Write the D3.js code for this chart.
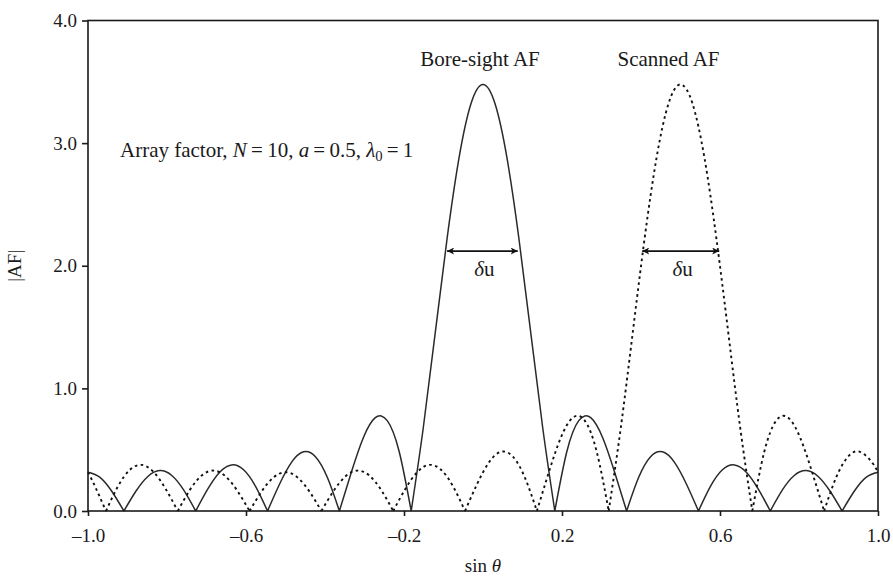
<!DOCTYPE html>
<html><head><meta charset="utf-8">
<script src="https://cdn.jsdelivr.net/npm/d3@7"></script>
<style>
body{margin:0;background:#fff}
svg{display:block}
text{font-family:"Liberation Serif","Times New Roman",serif;fill:#1a1a1a}
</style>
</head><body>
<svg id="c" width="893" height="576"></svg>
<script>
// ---- data ----
const xTicks = [-1.0, -0.6, -0.2, 0.2, 0.6, 1.0];
const yTicks = [0, 1, 2, 3, 4];

const boreU = [-1, -0.9697, -0.9394, -0.9091, -0.8788, -0.8485, -0.8182, -0.7879, -0.7576, -0.7273, -0.6970,
  -0.6667, -0.6364, -0.6061, -0.5758, -0.5455, -0.5152, -0.4848, -0.4545, -0.4242, -0.3939, -0.3636,
  -0.3333, -0.3030, -0.2727, -0.2424, -0.2121, -0.1818, -0.1515, -0.1212, -0.0909, -0.0606, -0.0303,
  0,
  0.0303, 0.0606, 0.0909, 0.1212, 0.1515, 0.1818, 0.2121, 0.2424, 0.2727, 0.3030, 0.3333,
  0.3636, 0.3939, 0.4242, 0.4545, 0.4848, 0.5152, 0.5455, 0.5758, 0.6061, 0.6364, 0.6667,
  0.6970, 0.7273, 0.7576, 0.7879, 0.8182, 0.8485, 0.8788, 0.9091, 0.9394, 0.9697, 1];
const boreAF = [0.3162, 0.2742, 0.1588, 0, 0.1610, 0.2818, 0.3296, 0.2898, 0.1703, 0, 0.1779,
  0.3162, 0.3759, 0.3362, 0.2011, 0, 0.2185, 0.3969, 0.4829, 0.4430, 0.2726, 0,
  0.3162, 0.5977, 0.7612, 0.7369, 0.4834, 0, 0.6707, 1.4471, 2.2221, 2.8809, 3.3232,
  3.4785,
  3.3232, 2.8809, 2.2221, 1.4471, 0.6707, 0, 0.4834, 0.7369, 0.7612, 0.5977, 0.3162,
  0, 0.2726, 0.4430, 0.4829, 0.3969, 0.2185, 0, 0.2011, 0.3362, 0.3759, 0.3162,
  0.1779, 0, 0.1703, 0.2898, 0.3296, 0.2818, 0.1610, 0, 0.1588, 0.2742, 0.3162];

const scanU = [-1, -0.9848, -0.9545, -0.9242, -0.8939, -0.8636, -0.8333, -0.8030, -0.7727, -0.7424, -0.7121,
  -0.6818, -0.6515, -0.6212, -0.5909, -0.5606, -0.5303, -0.5, -0.4697, -0.4394, -0.4091, -0.3788,
  -0.3485, -0.3182, -0.2879, -0.2576, -0.2273, -0.1970, -0.1667, -0.1364, -0.1061, -0.0758, -0.0455,
  -0.0152, 0.0152, 0.0455, 0.0758, 0.1061, 0.1364, 0.1667, 0.1970, 0.2273, 0.2576, 0.2879,
  0.3182, 0.3485, 0.3788, 0.4091, 0.4394, 0.4697, 0.5, 0.5303, 0.5606, 0.5909, 0.6212,
  0.6515, 0.6818, 0.7121, 0.7424, 0.7727, 0.8030, 0.8333, 0.8636, 0.8939, 0.9242, 0.9545, 0.9848, 1];
const scanAF = [0.3162, 0.2185, 0, 0.2011, 0.3362, 0.3759, 0.3162, 0.1779, 0, 0.1703, 0.2898,
  0.3296, 0.2818, 0.1610, 0, 0.1588, 0.2742, 0.3162, 0.2742, 0.1588, 0, 0.1610,
  0.2818, 0.3296, 0.2898, 0.1703, 0, 0.1779, 0.3162, 0.3759, 0.3362, 0.2011, 0,
  0.2185, 0.3969, 0.4829, 0.4430, 0.2726, 0, 0.3162, 0.5977, 0.7612, 0.7369, 0.4834,
  0, 0.6707, 1.4471, 2.2221, 2.8809, 3.3232, 3.4785, 3.3232, 2.8809, 2.2221, 1.4471,
  0.6707, 0, 0.4834, 0.7369, 0.7612, 0.5977, 0.3162, 0, 0.2726, 0.4430, 0.4829, 0.3969, 0.3162];

const peakLabels = ["Bore-sight AF", "Scanned AF"];
const peakCenters = [0, 0.5];
const arrowFrom = [-0.091, 0.403];
const arrowTo = [0.088, 0.598];
const arrowLevel = [2.12, 2.12];

// ---- drawing ----
const svg = d3.select("#c");
const x = d3.scaleLinear().domain([-1, 1]).range([88, 878]);
const y = d3.scaleLinear().domain([0, 4]).range([511, 20.5]);
const FS = 19, FA = 21;

// split a series into lobes at its nulls so the nulls stay sharp
function lobes(us, vs) {
  const segs = []; let cur = [];
  us.forEach((u, i) => {
    cur.push([u, vs[i]]);
    if (vs[i] === 0 && cur.length > 1) { segs.push(cur); cur = [[u, vs[i]]]; }
  });
  if (cur.length > 1) segs.push(cur);
  return segs;
}
const line = d3.line().x(d => x(d[0])).y(d => y(d[1])).curve(d3.curveNatural);

const plot = svg.append("g");
plot.append("path")
  .attr("d", lobes(boreU, boreAF).map(s => line(s)).join(""))
  .attr("fill", "none").attr("stroke", "#2a2a2a").attr("stroke-width", 1.5);
plot.append("path")
  .attr("d", lobes(scanU, scanAF).map(s => line(s)).join(""))
  .attr("fill", "none").attr("stroke", "#111").attr("stroke-width", 1.9)
  .attr("stroke-dasharray", "2.6,3.4");

// frame
svg.append("rect").attr("x", x(-1)).attr("y", y(4))
  .attr("width", x(1) - x(-1)).attr("height", y(0) - y(4))
  .attr("fill", "none").attr("stroke", "#1a1a1a").attr("stroke-width", 1.6);

const fmt = d => d3.format(".1f")(d).replace("\u2212", "\u2013");
const gx = svg.append("g").attr("transform", `translate(0,${y(0)})`)
  .call(d3.axisBottom(x).tickValues(xTicks).tickSize(5).tickPadding(13).tickFormat(fmt));
const gy = svg.append("g").attr("transform", `translate(${x(-1)},0)`)
  .call(d3.axisLeft(y).tickValues(yTicks).tickSize(6).tickPadding(5).tickFormat(d3.format(".1f")));
[gx, gy].forEach(g => {
  g.select(".domain").remove();
  g.attr("font-family", null).attr("font-size", null);
  g.selectAll("line").attr("stroke", "#1a1a1a").attr("stroke-width", 1.6);
  g.selectAll("text").attr("font-size", FS).attr("fill", "#1a1a1a");
});

// axis titles
const xt = svg.append("text").attr("x", x(0)).attr("y", 572)
  .attr("text-anchor", "middle").attr("font-size", FS);
xt.append("tspan").text("sin ");
xt.append("tspan").attr("font-style", "italic").text("\u03B8");
svg.append("text").attr("transform", `translate(21,${(y(0) + y(4)) / 2}) rotate(-90)`)
  .attr("text-anchor", "middle").attr("font-size", FS).text("|AF|");

// annotation
const ann = svg.append("text").attr("x", 120).attr("y", 157).attr("font-size", FA);
ann.append("tspan").text("Array factor, ");
ann.append("tspan").attr("font-style", "italic").text("N");
ann.append("tspan").text("\u2009=\u200910, ");
ann.append("tspan").attr("font-style", "italic").text("a");
ann.append("tspan").text("\u2009=\u20090.5, ");
ann.append("tspan").attr("font-style", "italic").text("\u03BB");
ann.append("tspan").attr("dy", 4).attr("font-size", FA * 0.7).text("0");
ann.append("tspan").attr("dy", -4).text("\u2009=\u20091");

// peak labels
peakLabels.forEach((t, i) => {
  svg.append("text").attr("x", x(peakCenters[i]) + (i ? -12 : -3)).attr("y", 66)
    .attr("text-anchor", "middle").attr("font-size", FA).text(t);
});

// beamwidth arrows
const defs = svg.append("defs");
defs.append("marker").attr("id", "ah").attr("viewBox", "0 0 10 10")
  .attr("refX", 10).attr("refY", 5).attr("markerWidth", 11).attr("markerHeight", 7)
  .attr("markerUnits", "userSpaceOnUse").attr("orient", "auto-start-reverse")
  .append("path").attr("d", "M0,0 L10,5 L0,10 L2.5,5 Z").attr("fill", "#111");
arrowFrom.forEach((a, i) => {
  svg.append("line").attr("x1", x(a)).attr("x2", x(arrowTo[i]))
    .attr("y1", y(arrowLevel[i])).attr("y2", y(arrowLevel[i]))
    .attr("stroke", "#111").attr("stroke-width", 1.8)
    .attr("marker-start", "url(#ah)").attr("marker-end", "url(#ah)");
  const t = svg.append("text").attr("x", (x(a) + x(arrowTo[i])) / 2 + 2).attr("y", y(arrowLevel[i]) + 25)
    .attr("text-anchor", "middle").attr("font-size", FA);
  t.append("tspan").attr("font-style", "italic").text("\u03B4");
  t.append("tspan").text("u");
});
</script>
</body></html>
